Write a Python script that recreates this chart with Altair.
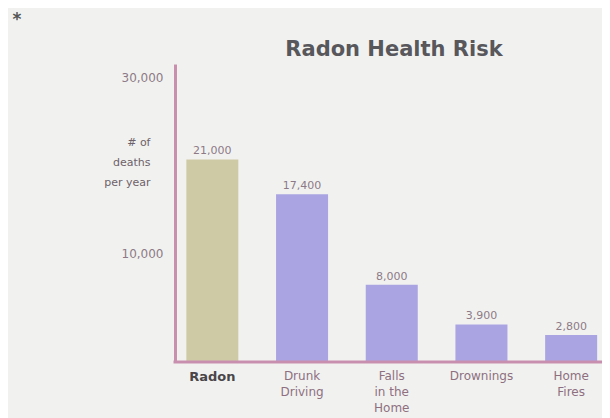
import altair as alt
import pandas as pd

causes = ["Radon", "Drunk\nDriving", "Falls\nin the\nHome", "Drownings", "Home\nFires"]
deaths = [21000, 17400, 8000, 3900, 2800]
y_ticks = [10000, 30000]
y_title = ["# of", "deaths", "per year"]
chart_title = "Radon Health Risk"

df = pd.DataFrame({"cause": causes, "deaths": deaths})

AXIS_COLOR = "#c98fae"
TAN = "#cfcaa6"
LAVENDER = "#aaa4e2"
LABEL_GRAY = "#8e7a86"

x = alt.X(
    "cause:N",
    sort=causes,
    title=None,
    scale=alt.Scale(paddingInner=0.42, paddingOuter=0.21, range=[-7.5, 441]),
    axis=alt.Axis(
        labelAngle=0,
        ticks=False,
        tickSize=0,
        domain=False,
        labelPadding=8,
        labelLineHeight=16,
        labelExpr="split(datum.label, '\\n')",
        labelFont="DejaVu Sans",
        labelFontSize={"condition": {"test": "datum.value == 'Radon'", "value": 13}, "value": 12},
        labelFontWeight={"condition": {"test": "datum.value == 'Radon'", "value": "bold"}, "value": "normal"},
        labelColor={"condition": {"test": "datum.value == 'Radon'", "value": "#4a4648"}, "value": "#8e6f80"},
    ),
)

y = alt.Y(
    "deaths:Q",
    scale=alt.Scale(domain=[0, 30900], nice=False),
    axis=alt.Axis(
        values=y_ticks,
        labelExpr="format(datum.value, ',')",
        grid=False,
        ticks=False,
        tickSize=0,
        domainColor=AXIS_COLOR,
        domainWidth=3,
        labelPadding=12,
        labelFont="DejaVu Sans",
        labelFontSize=12,
        labelColor=LABEL_GRAY,
        labelOffset={"condition": {"test": "datum.value == 10000", "value": -12}, "value": 5},
        title=y_title,
        titleAngle=0,
        titleAlign="right",
        titleBaseline="top",
        titleX=-25,
        titleY=72,
        titleFont="DejaVu Sans",
        titleFontSize=11,
        titleFontWeight="normal",
        titleColor="#6e6169",
        titleLineHeight=20,
    ),
)

bars = alt.Chart(df).mark_bar().encode(
    x=x,
    y=y,
    color=alt.condition(alt.datum.cause == "Radon", alt.value(TAN), alt.value(LAVENDER)),
)

values = alt.Chart(df).mark_text(
    baseline="bottom", dy=-3, font="DejaVu Sans", fontSize=11, color=LABEL_GRAY
).encode(
    x=x,
    y=y,
    text=alt.Text("deaths:Q", format=","),
)

baseline = alt.Chart(pd.DataFrame({"z": [0]})).mark_rule(
    color=AXIS_COLOR, strokeWidth=3
).encode(y=alt.Y("z:Q", scale=alt.Scale(domain=[0, 30900], nice=False)), x=alt.value(-1.5), x2=alt.value(427))

title_mark = alt.Chart(pd.DataFrame({"t": [chart_title]})).mark_text(
    font="DejaVu Sans", fontSize=21, fontWeight="bold", color="#58575b",
    baseline="alphabetic", align="center"
).encode(x=alt.value(219), y=alt.value(-8), text="t:N")

star = alt.Chart(pd.DataFrame({"s": ["*"]})).mark_text(
    font="DejaVu Sans", fontSize=17, fontWeight="bold", color="#555", baseline="middle", align="center"
).encode(x=alt.value(-158), y=alt.value(-44), text="s:N")

chart = (
    alt.layer(bars, values, baseline, title_mark, star)
    .properties(
        width=427,
        height=298,
        autosize=alt.AutoSizeParams(type="none"),
        padding={"left": 167, "top": 56, "right": 0, "bottom": 56},
        background="#f1f2f0",
    )
    .configure_view(stroke=None)
)

chart.save("out.html", embed_options={"renderer": "svg", "actions": False})
